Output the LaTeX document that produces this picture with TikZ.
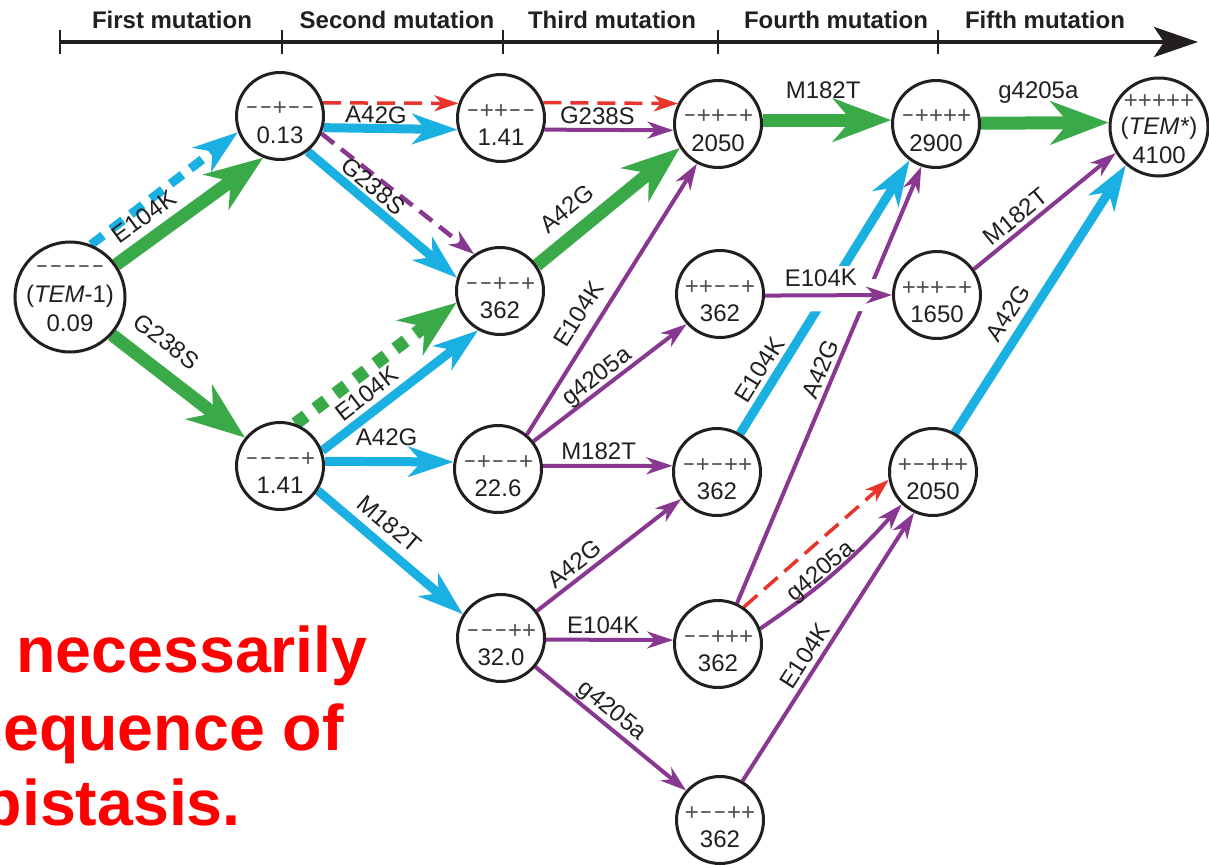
\documentclass[tikz,border=0pt]{standalone}
\usepackage{fontspec}
\setmainfont{Liberation Sans}
\usetikzlibrary{arrows.meta}
\pgfdeclarelayer{paper}
\pgfdeclarelayer{edges}
\pgfsetlayers{paper,edges,main}

\definecolor{mgreen}{RGB}{58,170,73}
\definecolor{mcyan}{RGB}{27,176,226}
\definecolor{mpurple}{RGB}{136,56,145}
\definecolor{mred}{RGB}{232,52,43}
\definecolor{ink}{RGB}{35,31,32}
\definecolor{pmgray}{RGB}{80,80,80}

% short minus for the genotype rows
\newcommand\mn{\makebox[0.584em]{\scalebox{0.8}[1]{−}}}

\tikzset{
  genotype/.style={circle, draw=ink, line width=3pt, fill=white, minimum size=87pt, inner sep=0pt},
  pmrow/.style={font=\fontsize{24}{24}\selectfont, text=pmgray, inner sep=0pt, anchor=base},
  valrow/.style={font=\fontsize{24}{24}\selectfont, text=ink, inner sep=0pt, anchor=base},
  lab/.style={font=\fontsize{24}{24}\selectfont, text=ink, inner sep=0pt, sloped},
  hdr/.style={font=\fontsize{24}{24}\selectfont\bfseries, text=ink, inner sep=0pt, anchor=base},
  redtxt/.style={font=\fontsize{64.5}{64.5}\selectfont\bfseries, text={rgb,255:red,255;green,0;blue,0}, inner sep=0pt, anchor=base east},
  gedge/.style={draw=mgreen, line width=13pt, -{Stealth[length=58pt,width=43pt,inset=18pt]}},
  cedge/.style={draw=mcyan, line width=9pt, -{Stealth[length=45pt,width=30pt,inset=13pt]}},
  pedge/.style={draw=mpurple, line width=4pt, -{Stealth[length=26pt,width=17pt,inset=8pt]}},
  redge/.style={draw=mred, line width=3.5pt, dash pattern=on 18pt off 9pt, -{Stealth[length=24pt,width=16pt,inset=7pt]}},
  cdash/.style={cedge, dash pattern=on 15pt off 10pt},
  gdash/.style={gedge, dash pattern=on 13pt off 12pt},
  pdash/.style={pedge, line width=4.5pt, dash pattern=on 16pt off 9pt},
}

\begin{document}
\begin{tikzpicture}[x=1pt,y=-1pt]
\clip (0,0) rectangle (1209,864);
\begin{pgfonlayer}{paper}
\fill[white] (0,0) rectangle (1209,864);
\end{pgfonlayer}

% ---- time axis of mutation steps ----
\coordinate (ax0) at (60,42);
\coordinate (ax1) at (1198,42);
\draw[ink, line width=4pt, -{Stealth[length=44pt,width=30pt,inset=10pt]}] (ax0) -- (ax1);
\foreach \x in {60,282,503,718,938} \draw[ink, line width=2pt] (\x,30) -- (\x,54);
\node[hdr] (h1) at (172,29) {First mutation};
\node[hdr] (h2) at (397,29) {Second mutation};
\node[hdr] (h3) at (612,29) {Third mutation};
\node[hdr] (h4) at (836,29) {Fourth mutation};
\node[hdr] (h5) at (1045,29) {Fifth mutation};

% ---- genotypes ----
\node[genotype, minimum size=110pt] (T1) at (70,297) {};
\node[pmrow] (T1p) at ([yshift=23pt]T1.center) {\mn\mn\mn\mn\mn};
\node[valrow] (T1n) at ([yshift=-5pt]T1.center) {(\textit{TEM}-1)};
\node[valrow] (T1v) at ([yshift=-34pt]T1.center) {0.09};

\newcommand\genotype[5]{%
  \node[genotype] (#1) at (#2,#3) {};
  \node[pmrow] (#1p) at ([yshift=0pt]#1.center) {#4};
  \node[valrow] (#1v) at ([yshift=-27pt]#1.center) {#5};
}
\genotype{A}{280}{116}{\mn\mn+\mn\mn}{0.13}
\genotype{B}{280}{466}{\mn\mn\mn\mn+}{1.41}
\genotype{C1}{501}{118}{\mn++\mn\mn}{1.41}
\genotype{C2}{500}{291}{\mn\mn+\mn+}{362}
\genotype{C3}{498}{469}{\mn+\mn\mn+}{22.6}
\genotype{C4}{501}{638}{\mn\mn\mn++}{32.0}
\genotype{D1}{718}{124}{\mn++\mn+}{2050}
\genotype{D2}{720}{294}{++\mn\mn+}{362}
\genotype{D3}{717}{472}{\mn+\mn++}{362}
\genotype{D4}{718}{644}{\mn\mn+++}{362}
\genotype{D5}{720}{820}{+\mn\mn++}{362}
\genotype{E1}{936}{124}{\mn++++}{2900}
\genotype{E2}{937}{295}{+++\mn+}{1650}
\genotype{E3}{933}{472}{+\mn+++}{2050}

\node[genotype, minimum size=98pt] (F) at (1159,127) {};
\node[pmrow] (Fp) at ([yshift=18pt]F.center) {+++++};
\node[valrow] (Fn) at ([yshift=-8pt]F.center) {(\textit{TEM*})};
\node[valrow] (Fv) at ([yshift=-36pt]F.center) {4100};

% ---- mutational steps ----
\begin{pgfonlayer}{edges}
% first mutation
\draw[cdash] (T1.68) -- (A.201);
\draw[gedge] (T1.35) -- node[lab, pos=0.28, above=7.5pt] (l1) {E104K} (A.248);
\draw[gedge] (T1.-42) -- node[lab, pos=0.28, above=13pt] (l2) {G238S} (B.141);
% second mutation
\draw[redge] (A.17) -- (C1.161);
\draw[cedge] (A.-15) -- node[lab, pos=0.39, above=0.5pt] (l3) {A42G} (C1.195);
\draw[pdash] (A.-23) -- (C2.125);
\draw[cedge] (A.-52) -- node[lab, pos=0.37, above=3pt] (l4) {G238S} (C2.163);
\draw[gdash] (B.70) -- (C2.195);
\draw[cedge] (B.20) -- node[lab, pos=0.355, above=5pt] (l5) {E104K} (C2.241);
\draw[cedge] (B.6) -- node[lab, pos=0.48, above=11pt] (l6) {A42G} (C3.171);
\draw[cedge] (B.-33) -- node[lab, pos=0.40, above=8pt] (l7) {M182T} (C4.148);
% third mutation
\draw[redge] (C1.20) -- (D1.153);
\draw[pedge] (C1.-15) -- node[lab, pos=0.41, above=3.5pt] (l8) {G238S} (D1.188);
\draw[gedge] (C2.35) -- node[lab, pos=0.32, above=10pt] (l9) {A42G} (D1.212);
\draw[pedge] (C3.50) -- node[lab, pos=0.405, above=10pt] (l10) {E104K} (D1.242);
\draw[pedge] (C3.38) -- node[lab, pos=0.464, above=-1pt] (l11) {g4205a} (D2.222);
\draw[pedge] (C3.4) -- node[lab, pos=0.43, above=4pt] (l12) {M182T} (D3.172);
\draw[pedge] (C4.37) -- node[lab, pos=0.32, above=4pt] (l13) {A42G} (D3.217);
\draw[pedge] (C4.-2) -- node[lab, pos=0.45, above=4pt] (l14) {E104K} (D4.175);
\draw[pedge] (C4.-40) -- node[lab, pos=0.447, above=1pt] (l15) {g4205a} (D5.139);
% fourth mutation
\draw[gedge] (D1.5) -- node[lab, pos=0.47, above=15pt] (l16) {M182T} (E1.175);
\draw[cedge] (D3.59) -- node[lab, pos=0.20, above=4.2pt] (l18) {E104K} (E1.234);
\draw[pedge] (D4.65) -- node[lab, pos=0.524, above=3.6pt] (l19) {A42G} (E1.251);
% the E104K step to 1650 passes over the two steps above
\draw[white, line width=32pt, shorten <=22pt, shorten >=6pt] (D2.-2) -- (E2.180);
\draw[pedge] (D2.-2) -- node[lab, fill=white, inner sep=3pt, pos=0.44, above=4pt] (l17) {E104K} (E2.180);
\draw[redge] (D4.55) -- (E3.190);
\draw[pedge] (D4.20) to[bend right=7] node[lab, pos=0.433, above=-4pt] (l20) {g4205a} (E3.226);
\draw[pedge] (D5.60) -- node[lab, pos=0.437, above=4.6pt] (l21) {E104K} (E3.245);
% fifth mutation
\draw[gedge] (E1.1) -- node[lab, pos=0.45, above=13pt] (l22) {g4205a} (F.175);
\draw[pedge] (E2.35) -- node[lab, pos=0.356, above=3.8pt] (l23) {M182T} (F.211);
\draw[cedge] (E3.61) -- node[lab, pos=0.408, above=6.8pt] (l24) {A42G} (F.229);
\end{pgfonlayer}

% ---- caption text ----
\node[redtxt] (r1) at (368,672) {is necessarily};
\node[redtxt] (r2) at (344,750) {consequence of};
\node[redtxt] (r3) at (241,825) {epistasis.};
\end{tikzpicture}
\end{document}
